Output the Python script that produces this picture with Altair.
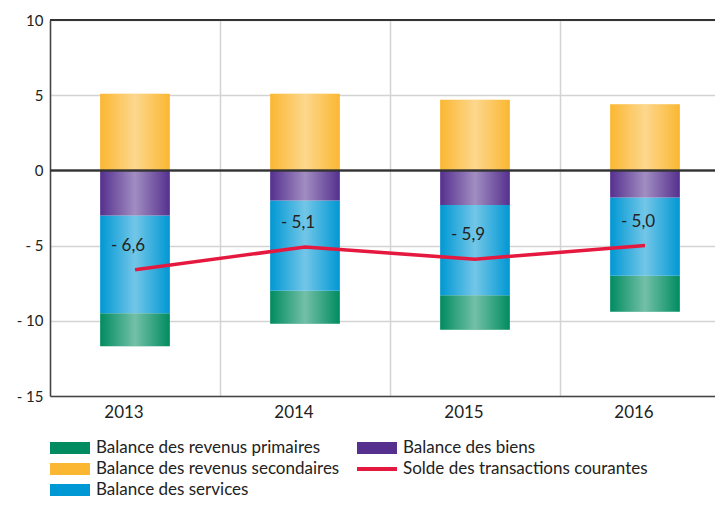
import altair as alt
import pandas as pd

years = ["2013", "2014", "2015", "2016"]
primaires = [-2.2, -2.2, -2.3, -2.4]
secondaires = [5.1, 5.1, 4.7, 4.4]
services = [-6.5, -6.0, -6.0, -5.2]
biens = [-3.0, -2.0, -2.3, -1.8]
solde = [-6.6, -5.1, -5.9, -5.0]

S_PRIM = "Balance des revenus primaires"
S_SEC = "Balance des revenus secondaires"
S_SERV = "Balance des services"
S_BIENS = "Balance des biens"
S_SOLDE = "Solde des transactions courantes"

C_PRIM, C_SEC, C_SERV, C_BIENS, C_SOLDE = "#008c60", "#fbb731", "#0098d4", "#55308f", "#e5193f"

stack_order = {S_SEC: 0, S_BIENS: 1, S_SERV: 2, S_PRIM: 3}

rows = []
for name, vals in [(S_PRIM, primaires), (S_SEC, secondaires), (S_SERV, services), (S_BIENS, biens)]:
    for yr, v in zip(years, vals):
        rows.append({"year": yr, "series": name, "value": v, "order": stack_order[name]})
bars_df = pd.DataFrame(rows)
line_df = pd.DataFrame({"year": years, "value": solde, "series": [S_SOLDE] * len(years)})

FONT = "Lato"
TEXT = "#222222"
RECT = "M-2,-0.6H2V0.6H-2Z"
THIN = "M-2,-0.2H2V0.2H-2Z"

legend_common = dict(title=None, orient="none", symbolSize=400, labelFontSize=17,
                     labelFont=FONT, labelColor=TEXT, labelOffset=16, rowPadding=3,
                     labelLimit=400)

x_enc = alt.X(
    "year:N",
    scale=alt.Scale(paddingInner=0, paddingOuter=0, range=[0, 680]),
    axis=alt.Axis(title=None, labelAngle=0, ticks=False, domain=True, domainColor="#444",
                  domainWidth=1.5, grid=True, bandPosition=0, gridColor="#d3d3d3",
                  gridWidth=1.5, labelFontSize=17, labelPadding=8, labelOffset=-11,
                  labelColor=TEXT, labelFont=FONT),
)
y_scale = alt.Scale(domain=[-15, 10], nice=False)
y_axis = alt.Axis(title=None, values=[-15, -10, -5, 0, 5, 10], ticks=False, domain=True,
                  domainColor="#444", domainWidth=1.5, grid=True, gridColor="#d3d3d3",
                  gridWidth=1.5, labelFontSize=15, labelPadding=7, labelColor=TEXT,
                  labelFont=FONT,
                  labelExpr="datum.value < 0 ? '- ' + abs(datum.value) : '' + datum.value")

bar_width = alt.RelativeBandSize(0.41)

bars = alt.Chart(bars_df).mark_bar(width=bar_width).encode(
    x=x_enc,
    y=alt.Y("value:Q", scale=y_scale, stack="zero", axis=y_axis),
    color=alt.Color(
        "series:N",
        scale=alt.Scale(domain=[S_PRIM, S_SEC, S_SERV, S_BIENS],
                        range=[C_PRIM, C_SEC, C_SERV, C_BIENS]),
        legend=alt.Legend(values=[S_PRIM, S_SEC, S_SERV], legendX=10, legendY=418,
                          symbolType=RECT, symbolStrokeWidth=0, **legend_common),
    ),
    order=alt.Order("order:Q"),
)

shine = alt.Chart(bars_df).mark_bar(
    width=bar_width,
    fill=alt.Gradient(
        gradient="linear", x1=0, x2=1, y1=0, y2=0,
        stops=[
            alt.GradientStop(color="rgba(255,255,255,0)", offset=0),
            alt.GradientStop(color="rgba(255,255,255,0.45)", offset=0.5),
            alt.GradientStop(color="rgba(255,255,255,0)", offset=1),
        ],
    ),
).encode(
    x=x_enc,
    y=alt.Y("value:Q", scale=y_scale, stack="zero"),
    detail="series:N",
    order=alt.Order("order:Q"),
)

biens_key = alt.Chart(bars_df).transform_filter(
    alt.datum.series == S_BIENS
).mark_rule(strokeWidth=0, color=C_BIENS).encode(
    x=x_enc,
    y=alt.Y("value:Q", scale=y_scale),
    strokeDash=alt.StrokeDash(
        "series:N",
        scale=alt.Scale(domain=[S_BIENS], range=[[1, 0]]),
        legend=alt.Legend(legendX=317, legendY=418, symbolType=RECT,
                          symbolFillColor=C_BIENS, symbolStrokeColor=C_BIENS,
                          symbolStrokeWidth=0, **legend_common),
    ),
)

zero = alt.Chart(line_df).mark_rule(color="#333", strokeWidth=1.5).encode(y=alt.datum(0))
top = alt.Chart(line_df).mark_rule(color="#333", strokeWidth=1.5).encode(y=alt.datum(10))

line = alt.Chart(line_df).mark_line(strokeWidth=3.5).encode(
    x=x_enc,
    y=alt.Y("value:Q", scale=y_scale),
    stroke=alt.Stroke(
        "series:N",
        scale=alt.Scale(domain=[S_SOLDE], range=[C_SOLDE]),
        legend=alt.Legend(legendX=317, legendY=439, symbolType=THIN,
                          symbolFillColor=C_SOLDE, symbolStrokeWidth=0, **legend_common),
    ),
)

labels = alt.Chart(line_df).transform_calculate(
    label="'- ' + replace(format(abs(datum.value), '.1f'), '.', ',')"
).mark_text(dx=-7, dy=-24, fontSize=17, color=TEXT, font=FONT).encode(
    x=x_enc, y=alt.Y("value:Q", scale=y_scale), text="label:N"
)

chart = alt.layer(bars, shine, biens_key, zero, top, line, labels).properties(
    width=665, height=376,
    autosize=alt.AutoSizeParams(type="none"),
    padding={"left": 42, "top": 12, "right": 0, "bottom": 103},
).configure_view(stroke=None)

chart.save("out.html", embed_options={"renderer": "svg", "actions": False})
